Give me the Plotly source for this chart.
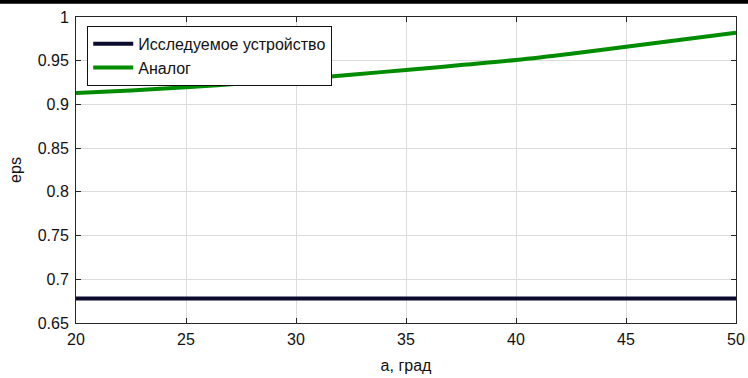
import plotly.graph_objects as go

# angle, degrees
angle = [20, 22.5, 25, 27.5, 30, 32.5, 35, 37.5, 40, 42.5, 45, 47.5, 50]
# eps of the device under study (constant)
eps_device = [0.678] * len(angle)
# eps of the analogue
eps_analog = [0.913, 0.916, 0.9196, 0.924, 0.9287, 0.934, 0.9394,
              0.945, 0.9508, 0.958, 0.966, 0.974, 0.982]

x_ticks = [20, 25, 30, 35, 40, 45, 50]
y_ticks = [0.65, 0.7, 0.75, 0.8, 0.85, 0.9, 0.95, 1]
y_tick_text = ["0.65", "0.7", "0.75", "0.8", "0.85", "0.9", "0.95", "1"]

FONT = "Liberation Sans, Arial, sans-serif"

fig = go.Figure()
fig.add_trace(go.Scatter(
    x=angle, y=eps_device, mode="lines",
    name="Исследуемое устройство",
    line=dict(color="#0b0b2e", width=4),
))
fig.add_trace(go.Scatter(
    x=angle, y=eps_analog, mode="lines",
    name="Аналог",
    line=dict(color="#008c00", width=4, shape="spline"),
))

axis_common = dict(
    showgrid=True, gridcolor="#dcdcdc", gridwidth=1,
    showline=True, linecolor="#262626", linewidth=1, mirror="ticks",
    ticks="inside", ticklen=5, tickcolor="#262626",
    zeroline=False, automargin=False,
    tickfont=dict(family=FONT, size=16, color="#111"),
)

fig.update_layout(
    width=748, height=378,
    margin=dict(l=76, r=12, t=17, b=55),
    paper_bgcolor="white", plot_bgcolor="white",
    font=dict(family=FONT, color="#111"),
    showlegend=True,
    legend=dict(
        x=0.017, y=0.971, xanchor="left", yanchor="top",
        bgcolor="white", bordercolor="#111", borderwidth=1,
        font=dict(family=FONT, size=16, color="#111"),
        tracegroupgap=0, itemwidth=40,
    ),
    xaxis=dict(
        range=[20, 50], tickvals=x_ticks, ticklabelstandoff=2,
        title=dict(text="a, град", font=dict(family=FONT, size=16), standoff=12),
        **axis_common,
    ),
    yaxis=dict(
        range=[0.65, 1], tickvals=y_ticks, ticktext=y_tick_text,
        ticklabelstandoff=3,
        title=dict(text="eps", font=dict(family=FONT, size=16), standoff=12),
        **axis_common,
    ),
    shapes=[dict(
        type="rect", xref="paper", yref="paper",
        x0=-0.2, x1=1.1, y0=1.043, y1=1.07,
        fillcolor="black", line=dict(width=0), layer="above",
    )],
)

fig.write_html("out.html")
